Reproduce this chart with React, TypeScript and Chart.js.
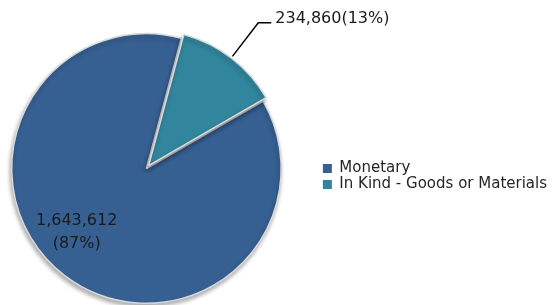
import React, { useEffect, useRef } from 'react';
import { Chart, registerables } from 'chart.js';

Chart.register(...registerables);

const categories: string[] = ['Monetary', 'In Kind - Goods or Materials'];
const values: number[] = [1643612, 234860];
const sliceColors: string[] = ['#366092', '#31859C'];

const LABEL_FONT = '16px "DejaVu Sans"';
const LABEL_COLOR = '#1a1a1a';

const shadowPlugin = {
  id: 'pieShadow',
  beforeDatasetsDraw(chart: any) {
    const c = chart.ctx;
    c.save();
    c.shadowColor = 'rgba(0,0,0,0.32)';
    c.shadowBlur = 4;
    c.shadowOffsetX = -1;
    c.shadowOffsetY = 3;
  },
  afterDatasetsDraw(chart: any) {
    chart.ctx.restore();
  },
};

const legendShiftPlugin = {
  id: 'legendShift',
  afterLayout(chart: any) {
    const l = chart.legend;
    if (l) {
      l.top += 8;
      l.bottom += 8;
    }
  },
};

const pieLabelsPlugin = {
  id: 'pieLabels',
  afterDatasetsDraw(chart: any) {
    const ctx = chart.ctx;
    const meta = chart.getDatasetMeta(0);
    const total = values.reduce((a, b) => a + b, 0);
    meta.data.forEach((arc: any, i: number) => {
      const p = arc.getProps(['x', 'y', 'startAngle', 'endAngle', 'outerRadius', 'circumference'], true);
      const off = (arc.options.offset || 0) / 4;
      const mid = (p.startAngle + p.endAngle) / 2;
      const fix = 1 - Math.sin(Math.min(Math.PI, p.circumference || 0));
      const shift = off * (1 + fix);
      const cx = p.x + Math.cos(mid) * shift;
      const cy = p.y + Math.sin(mid) * shift;
      const valueText = values[i].toLocaleString('en-US');
      const pct = Math.round((values[i] / total) * 100) + '%';
      ctx.save();
      ctx.font = LABEL_FONT;
      ctx.fillStyle = LABEL_COLOR;
      if (i === 0) {
        const a = mid + (10.2 * Math.PI) / 180;
        const r = p.outerRadius * 0.7;
        const lx = cx + Math.cos(a) * r;
        const ly = cy + Math.sin(a) * r;
        ctx.textAlign = 'center';
        ctx.textBaseline = 'alphabetic';
        ctx.fillText(valueText, lx, ly - 7);
        ctx.fillText('(' + pct + ')', lx, ly + 16);
      } else {
        const r0 = p.outerRadius + 2;
        const r1 = p.outerRadius * 1.33;
        const sx = cx + Math.cos(mid) * r0;
        const sy = cy + Math.sin(mid) * r0;
        const ex = cx + Math.cos(mid) * r1;
        const ey = cy + Math.sin(mid) * r1;
        ctx.strokeStyle = '#000000';
        ctx.lineWidth = 1.5;
        ctx.beginPath();
        ctx.moveTo(sx, sy);
        ctx.lineTo(ex, ey);
        ctx.lineTo(ex + 13, ey);
        ctx.stroke();
        ctx.textAlign = 'left';
        ctx.textBaseline = 'alphabetic';
        ctx.fillText(valueText + '(' + pct + ')', ex + 17, ey);
      }
      ctx.restore();
    });
  },
};

export default function App() {
  const canvasRef = useRef<HTMLCanvasElement | null>(null);

  useEffect(() => {
    if (!canvasRef.current) return;
    const baseGen = (Chart as any).overrides.doughnut.plugins.legend.labels.generateLabels;
    const chart = new Chart(canvasRef.current, {
      type: 'pie',
      data: {
        labels: categories,
        datasets: [
          {
            data: values,
            backgroundColor: sliceColors,
            borderColor: '#d9d9d9',
            borderWidth: 1.5,
            hoverBorderWidth: 1.5,
            offset: [0, 14],
            hoverOffset: 0,
          },
        ],
      },
      options: {
        responsive: true,
        maintainAspectRatio: false,
        animation: false,
        events: [],
        rotation: 60,
        layout: { padding: { left: 0, right: 0, top: 26, bottom: 0 } },
        plugins: {
          legend: {
            position: 'right',
            labels: {
              font: { family: '"DejaVu Sans"', size: 15 },
              color: '#262626',
              boxWidth: 9,
              boxHeight: 9,
              padding: 1,
              generateLabels: (c: any) =>
                baseGen(c).map((l: any) => ({ ...l, lineWidth: 0, strokeStyle: 'rgba(0,0,0,0)' })),
            },
          },
          tooltip: { enabled: false },
        },
      } as any,
      plugins: [shadowPlugin, pieLabelsPlugin, legendShiftPlugin],
    });
    return () => chart.destroy();
  }, []);

  return (
    <div style={{ position: 'fixed', left: -29, top: 0, width: 586, height: 311, background: '#ffffff' }}>
      <canvas ref={canvasRef} />
    </div>
  );
}
